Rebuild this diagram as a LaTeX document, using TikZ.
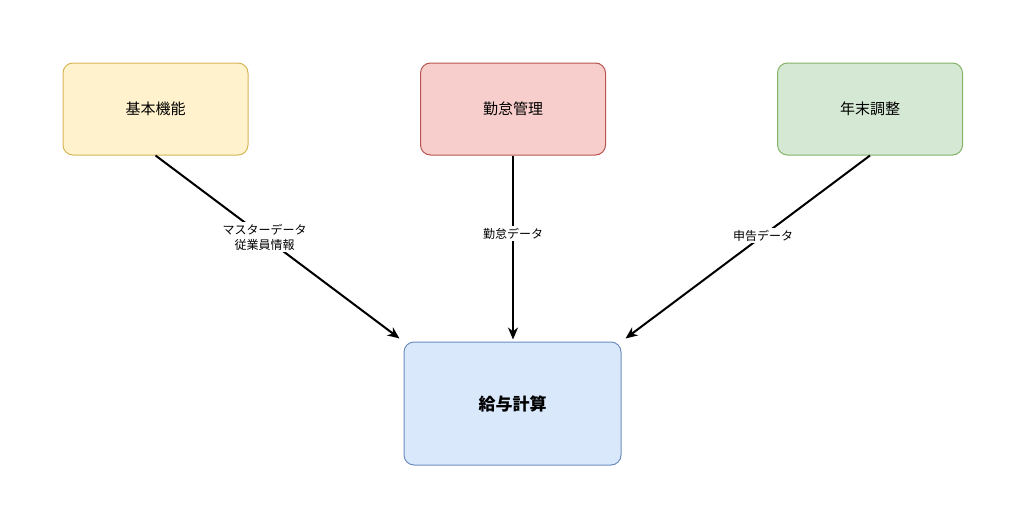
\documentclass[tikz,border=0pt]{standalone}
\usepackage{fontspec}
\setmainfont{Noto Sans CJK JP}
\usetikzlibrary{arrows.meta}
\begin{document}
\begin{tikzpicture}[x=1pt,y=-1pt,
  box/.style={draw,line width=1pt,rounded corners=10pt,minimum width=185pt,minimum height=92pt,font=\fontsize{15}{18}\selectfont},
  arr/.style={line width=2pt,-{Stealth[length=12pt,width=10pt]}},
  lab/.style={fill=white,font=\fontsize{12}{15}\selectfont,align=center,inner sep=2pt}]
\useasboundingbox (0,0) rectangle (1024,527);
\definecolor{yf}{HTML}{FFF2CC}\definecolor{yd}{HTML}{D6B656}
\definecolor{rf}{HTML}{F8CECC}\definecolor{rd}{HTML}{B85450}
\definecolor{gf}{HTML}{D5E8D4}\definecolor{gd}{HTML}{82B366}
\definecolor{bf}{HTML}{DAE8FC}\definecolor{bd}{HTML}{6C8EBF}
\node[box,fill=yf,draw=yd] (a) at (155.5,109) {基本機能};
\node[box,fill=rf,draw=rd] (b) at (513,109) {勤怠管理};
\node[box,fill=gf,draw=gd] (c) at (870,109) {年末調整};
\node[box,fill=bf,draw=bd,minimum width=217pt,minimum height=123pt,font=\fontsize{17}{20}\selectfont\bfseries] (e) at (512.5,403.5) {給与計算};
\draw[arr,shorten >=5pt] (a.south) -- (e.north west) node[lab,pos=0.44] {マスターデータ\\従業員情報};
\draw[arr,shorten >=2pt] (b.south) -- (e.north -| b.south) node[lab,pos=0.42] {勤怠データ};
\draw[arr,shorten >=5pt] (c.south) -- (e.north east) node[lab,pos=0.43] {申告データ};
\end{tikzpicture}
\end{document}
